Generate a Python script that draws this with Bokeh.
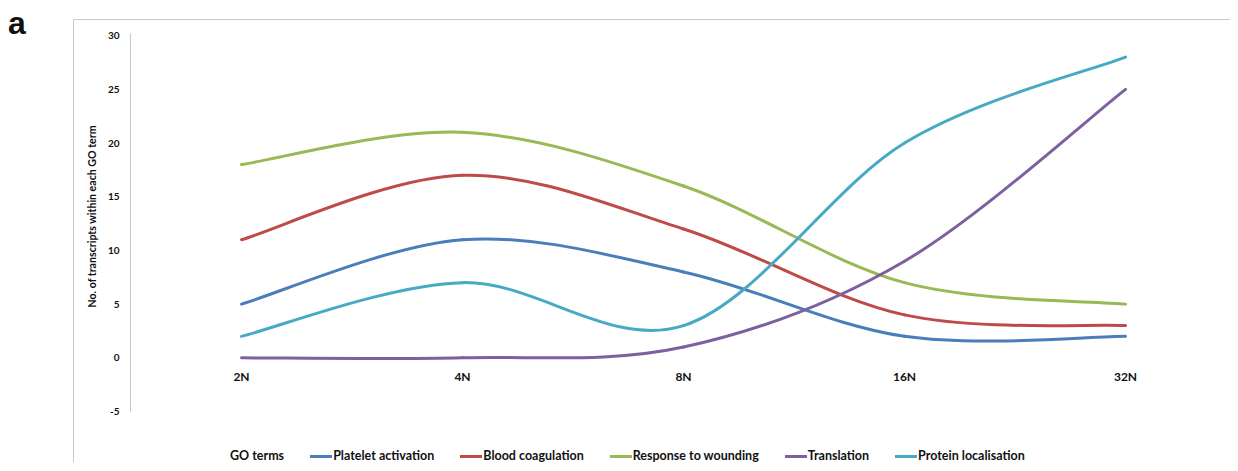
from bokeh.plotting import figure
from bokeh.models import (FixedTicker, Legend, LegendItem, Div, Range1d, Title)
from bokeh.layouts import row
from bokeh.embed import file_html
from bokeh.resources import INLINE

# ---- data ----
categories = ["2N", "4N", "8N", "16N", "32N"]
platelet_activation = [5, 11, 8, 2, 2]
blood_coagulation = [11, 17, 12, 4, 3]
response_to_wounding = [18, 21, 16, 7, 5]
translation = [0, 0, 1, 9, 25]
protein_localisation = [2, 7, 3, 20, 28]
series_names = ["Platelet activation", "Blood coagulation", "Response to wounding",
                "Translation", "Protein localisation"]
series_values = [platelet_activation, blood_coagulation, response_to_wounding,
                 translation, protein_localisation]
series_colors = ["#4a7ebb", "#be4b48", "#98b954", "#7d60a0", "#46aac5"]
y_ticks = [-5, 0, 5, 10, 15, 20, 25, 30]
legend_title = "GO terms"
y_title = "No. of transcripts within each GO term"

FONT = "Lato"

p = figure(width=1157, height=443, output_backend="svg", toolbar_location=None,
           x_range=Range1d(-0.5023, 4.389), y_range=Range1d(-9.84, 30.2),
           min_border_left=56, min_border_top=13, min_border_bottom=0,
           min_border_right=20, background_fill_color="white",
           border_fill_color="white", outline_line_color=None,
           margin=(19, 0, 0, 0),
           styles={"border-left": "1px solid #cacaca", "border-top": "1px solid #cacaca"})
p.xgrid.visible = False
p.ygrid.visible = False


def smooth_segments(vals):
    """Catmull-Rom style Bezier control points (Excel-like smoothing)."""
    n = len(vals)
    xs = list(range(n))
    out = dict(x0=[], y0=[], x1=[], y1=[], cx0=[], cy0=[], cx1=[], cy1=[])
    for i in range(n - 1):
        a = max(i - 1, 0)
        d = min(i + 2, n - 1)
        x0, y0 = xs[i], vals[i]
        x1, y1 = xs[i + 1], vals[i + 1]
        out["x0"].append(x0); out["y0"].append(y0)
        out["x1"].append(x1); out["y1"].append(y1)
        out["cx0"].append(x0 + (xs[i + 1] - xs[a]) / 6.0)
        out["cy0"].append(y0 + (vals[i + 1] - vals[a]) / 6.0)
        out["cx1"].append(x1 - (xs[d] - xs[i]) / 6.0)
        out["cy1"].append(y1 - (vals[d] - vals[i]) / 6.0)
    return out


items = []
dummy = p.line(x=[], y=[], line_alpha=0, line_width=3)
items.append(LegendItem(label=legend_title, renderers=[dummy]))
for name, vals, col in zip(series_names, series_values, series_colors):
    seg = smooth_segments(vals)
    r = p.bezier(source=seg, x0="x0", y0="y0", x1="x1", y1="y1",
                 cx0="cx0", cy0="cy0", cx1="cx1", cy1="cy1",
                 line_color=col, line_width=3, line_cap="round")
    items.append(LegendItem(label=name, renderers=[r]))

# y axis
ya = p.yaxis[0]
ya.ticker = FixedTicker(ticks=y_ticks)
ya.major_label_overrides = {t: str(t) for t in y_ticks}
ya.bounds = (-5, 30.2)
ya.axis_line_color = "#c4c4c4"
ya.major_tick_line_color = None
ya.minor_tick_line_color = None
ya.major_tick_in = 0
ya.major_tick_out = 0
ya.major_label_standoff = 11
ya.major_label_text_font = FONT
ya.major_label_text_font_style = "bold"
ya.major_label_text_font_size = "10px"
ya.major_label_text_color = "#111111"

# y axis title (anchored from the bottom so it is centred on the -5..30 span)
ytitle = Title(text=y_title, align="left", offset=156, standoff=14,
               text_font=FONT, text_font_style="bold", text_font_size="10.6px",
               text_color="#111111")
p.add_layout(ytitle, "left")

# x axis at y = 0
xa = p.xaxis[0]
xa.fixed_location = 0
xa.ticker = FixedTicker(ticks=list(range(len(categories))))
xa.major_label_overrides = {i: c for i, c in enumerate(categories)}
xa.axis_line_color = None
xa.major_tick_line_color = None
xa.minor_tick_line_color = None
xa.major_tick_in = 0
xa.major_tick_out = 0
xa.major_label_standoff = 11
xa.major_label_text_font = FONT
xa.major_label_text_font_style = "bold"
xa.major_label_text_font_size = "12px"
xa.major_label_text_color = "#111111"

legend = Legend(items=items, orientation="horizontal", location=(77, 0),
                glyph_width=22, glyph_height=14, label_height=14,
                label_standoff=1, spacing=26, padding=0, margin=0,
                border_line_color=None, background_fill_alpha=0,
                label_text_font=FONT, label_text_font_style="bold",
                label_text_font_size="12.5px", label_text_color="#111111")
p.add_layout(legend)

div = Div(text='<div style="padding:2px 0 0 3px">a</div>', width=63, height=40,
          styles={"font-family": "Liberation Sans", "font-weight": "bold",
                  "font-size": "32px", "line-height": "32px", "color": "#111111"})

layout = row(div, p)
open("out.html", "w").write(file_html(layout, INLINE))
